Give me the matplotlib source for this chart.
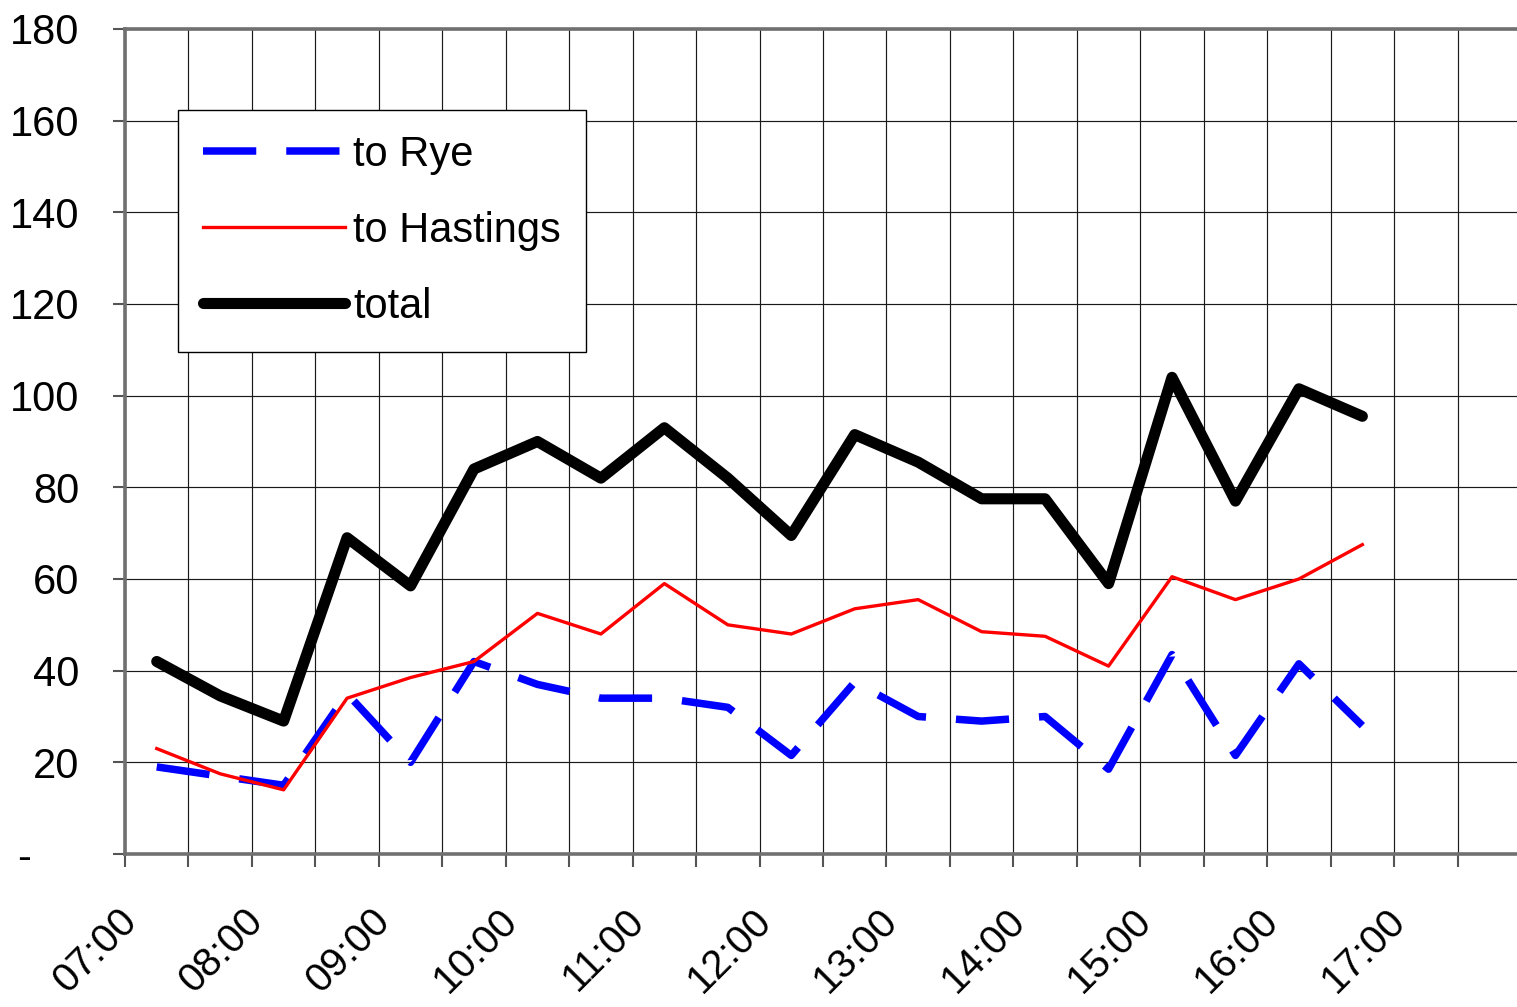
import matplotlib
matplotlib.use("Agg")
import matplotlib.pyplot as plt
from matplotlib.transforms import ScaledTranslation
import numpy as np

plt.rcParams['font.family'] = ['Liberation Sans', 'DejaVu Sans']

times = ["07:15", "07:45", "08:15", "08:45", "09:15", "09:45", "10:15", "10:45",
         "11:15", "11:45", "12:15", "12:45", "13:15", "13:45", "14:15", "14:45",
         "15:15", "15:45", "16:15", "16:45"]
rye = [19, 17, 15, 35, 20, 42, 37, 34, 34, 32, 21.5, 37.5, 30, 29, 30, 18.5,
       43.5, 21.5, 41.5, 28]
hastings = [23, 17.5, 14, 34, 38.5, 42, 52.5, 48, 59, 50, 48, 53.5, 55.5, 48.5,
            47.5, 41, 60.5, 55.5, 60, 67.5]
total = [42, 34.5, 29, 69, 58.5, 84, 90, 82, 93, 82, 69.5, 91.5, 85.5, 77.5,
         77.5, 59, 104, 77, 101.5, 95.5]
hour_labels = ["07:00", "08:00", "09:00", "10:00", "11:00", "12:00", "13:00",
               "14:00", "15:00", "16:00", "17:00"]
y_ticks = [0, 20, 40, 60, 80, 100, 120, 140, 160, 180]
y_labels = ["-", "20", "40", "60", "80", "100", "120", "140", "160", "180"]


def to_hours(s):
    h, m = s.split(":")
    return int(h) + int(m) / 60.0


x = np.array([to_hours(t) for t in times])
hour_set = {round(to_hours(t), 3): t for t in hour_labels}

W, H = 1517, 1007
dpi = 100
fig = plt.figure(figsize=(W / dpi, H / dpi), dpi=dpi)
left, right, top, bottom = 125, 1521, 29, 854
ax = fig.add_axes([left / W, 1 - bottom / H, (right - left) / W, (bottom - top) / H])

ax.set_xlim(7, 18)
ax.set_ylim(0, 180)

grid_c = '#1a1a1a'
xt = np.arange(7, 18.01, 0.5)
ax.set_xticks(xt)
ax.set_yticks(y_ticks)
ax.set_yticklabels(y_labels)
ax.grid(True, color=grid_c, linewidth=0.85, zorder=0)
ax.set_axisbelow(True)

xl = [hour_set.get(round(v, 3), "") for v in xt]
ax.set_xticklabels(xl, rotation=45, ha='right', va='top', fontsize=29)

ax.tick_params(axis='x', direction='out', length=9, width=1.5, color='#555555', pad=25)
ax.tick_params(axis='y', direction='out', length=9, width=1.5, color='#555555', pad=24,
               labelsize=30)

for lab in ax.get_xticklabels():
    lab.set_transform(lab.get_transform() + ScaledTranslation(19 / dpi, 0, fig.dpi_scale_trans))

zero_tick = ax.yaxis.get_major_ticks()[0]
zero_tick.label1.set_transform(zero_tick.label1.get_transform() +
                               ScaledTranslation(-48 / dpi, 0, fig.dpi_scale_trans))

for side in ['left', 'top', 'bottom']:
    ax.spines[side].set_color('#707070')
    ax.spines[side].set_linewidth(2.6)
ax.spines['right'].set_visible(False)

ax.plot(x, rye, color='#0000FF', linewidth=5.4, dashes=(7.1, 4.0),
        dash_capstyle='butt', label='to Rye', zorder=3)
ax.plot(x, hastings, color='#FF0000', linewidth=2.4, solid_joinstyle='round',
        label='to Hastings', zorder=4)
ax.plot(x, total, color='black', linewidth=8, solid_capstyle='round',
        solid_joinstyle='round', label='total', zorder=5)

leg = ax.legend(loc='upper left', bbox_to_anchor=(178 / W, 1 - 110 / H),
                bbox_transform=fig.transFigure, borderaxespad=0,
                fontsize=30, frameon=True, fancybox=False, shadow=False,
                framealpha=1, edgecolor='black', handlelength=3.4,
                handletextpad=0.2, borderpad=0.6, labelspacing=0.86)
leg.get_frame().set_linewidth(1.0)

fig.savefig("out.png", dpi=dpi)
